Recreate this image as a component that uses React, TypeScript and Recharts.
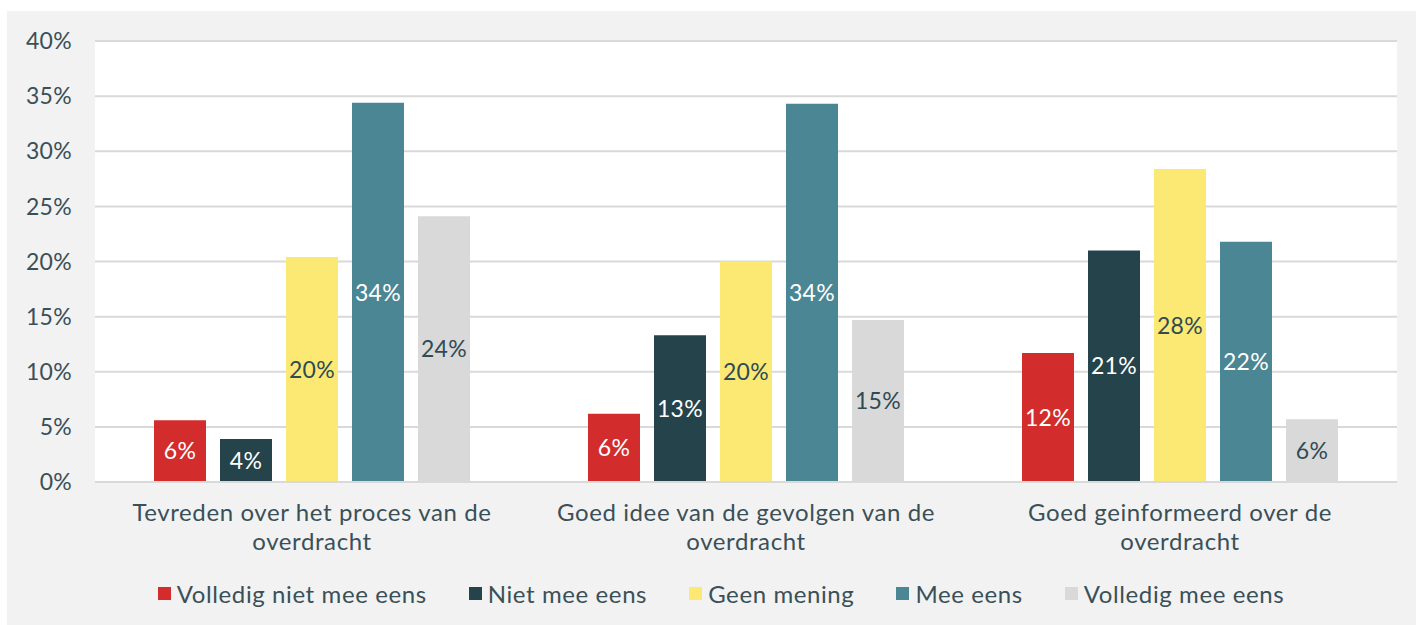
import React from 'react';
import { BarChart, Bar, XAxis, YAxis, CartesianGrid, Legend, LabelList } from 'recharts';

const categories = [
  'Tevreden over het proces van de overdracht',
  'Goed idee van de gevolgen van de overdracht',
  'Goed geinformeerd over de overdracht',
];

const volledigNiet = [5.6, 6.2, 11.7];
const niet = [3.9, 13.3, 21.0];
const geen = [20.4, 20.0, 28.4];
const mee = [34.4, 34.3, 21.8];
const volledigMee = [24.1, 14.7, 5.7];

const yTicks = [0, 5, 10, 15, 20, 25, 30, 35, 40];

const series = [
  { key: 'vn', name: 'Volledig niet mee eens', color: '#d22d2c', values: volledigNiet, label: '#ffffff' },
  { key: 'n', name: 'Niet mee eens', color: '#25434a', values: niet, label: '#ffffff' },
  { key: 'g', name: 'Geen mening', color: '#fbe973', values: geen, label: '#2f4b54' },
  { key: 'm', name: 'Mee eens', color: '#4b8694', values: mee, label: '#ffffff' },
  { key: 'vm', name: 'Volledig mee eens', color: '#d9d9d9', values: volledigMee, label: '#2f4b54' },
];

const data = categories.map((c, i) => {
  const row: any = { name: c };
  series.forEach((s) => (row[s.key] = s.values[i]));
  return row;
});

const FONT = 'Lato, sans-serif';
const TEXT = '#3a5058';

const wrap = (s: string, max: number) => {
  const lines: string[] = [];
  let cur = '';
  s.split(' ').forEach((w) => {
    const next = cur ? cur + ' ' + w : w;
    if (next.length > max && cur) {
      lines.push(cur);
      cur = w;
    } else cur = next;
  });
  if (cur) lines.push(cur);
  return lines;
};

const CategoryTick = (props: any) => {
  const { x, y, payload } = props;
  const lines = wrap(payload.value, 32);
  return (
    <text x={x} y={y} textAnchor="middle" fill={TEXT} fontSize={24} letterSpacing={0.6} fontFamily={FONT}>
      {lines.map((l, i) => (
        <tspan key={i} x={x} dy={i === 0 ? 31 : 29}>
          {l}
        </tspan>
      ))}
    </text>
  );
};

const LegendContent = () => (
  <div style={{ height: 60, display: 'flex', justifyContent: 'center', alignItems: 'center', fontFamily: FONT, fontSize: 24, letterSpacing: 0.6, color: TEXT, paddingLeft: 38, paddingBottom: 4, boxSizing: 'border-box' }}>
    {series.map((s) => (
      <div key={s.key} style={{ display: 'flex', alignItems: 'center', margin: '0 21px' }}>
        <span style={{ width: 13, height: 13, background: s.color, marginRight: 6, display: 'inline-block' }} />
        <span>{s.name}</span>
      </div>
    ))}
  </div>
);

export default function App() {
  return (
    <div style={{ position: 'absolute', left: 0, top: 0, width: 1416, height: 625, background: '#ffffff' }}>
      <div style={{ position: 'absolute', left: 7, top: 11, width: 1409, height: 614, background: '#f2f2f2' }}>
        <BarChart
          width={1409}
          height={614}
          data={data}
          margin={{ top: 30, right: 19, left: 0, bottom: 0 }}
          barCategoryGap={59}
          barGap={14}
        >
          <CartesianGrid vertical={false} stroke="#d9d9d9" strokeWidth={2} fill="#ffffff" />
          <XAxis
            dataKey="name"
            axisLine={{ stroke: '#d9d9d9', strokeWidth: 2 }}
            tickLine={false}
            height={83}
            tick={<CategoryTick />}
            interval={0}
          />
          <YAxis
            domain={[0, 40]}
            ticks={yTicks}
            width={88}
            axisLine={false}
            tickLine={false}
            tickMargin={17}
            tickFormatter={(v: number) => `${v}%`}
            tick={{ fill: TEXT, fontSize: 23, fontFamily: FONT, letterSpacing: 0.3 }}
          />
          <Legend verticalAlign="bottom" height={60} content={<LegendContent />} />
          {series.map((s) => (
            <Bar key={s.key} dataKey={s.key} name={s.name} fill={s.color} isAnimationActive={false}>
              <LabelList
                dataKey={s.key}
                position="center"
                formatter={(v: any) => `${Math.round(Number(v))}%`}
                fill={s.label}
                fontSize={23}
                fontFamily={FONT}
                letterSpacing={0.3}
              />
            </Bar>
          ))}
        </BarChart>
      </div>
    </div>
  );
}
